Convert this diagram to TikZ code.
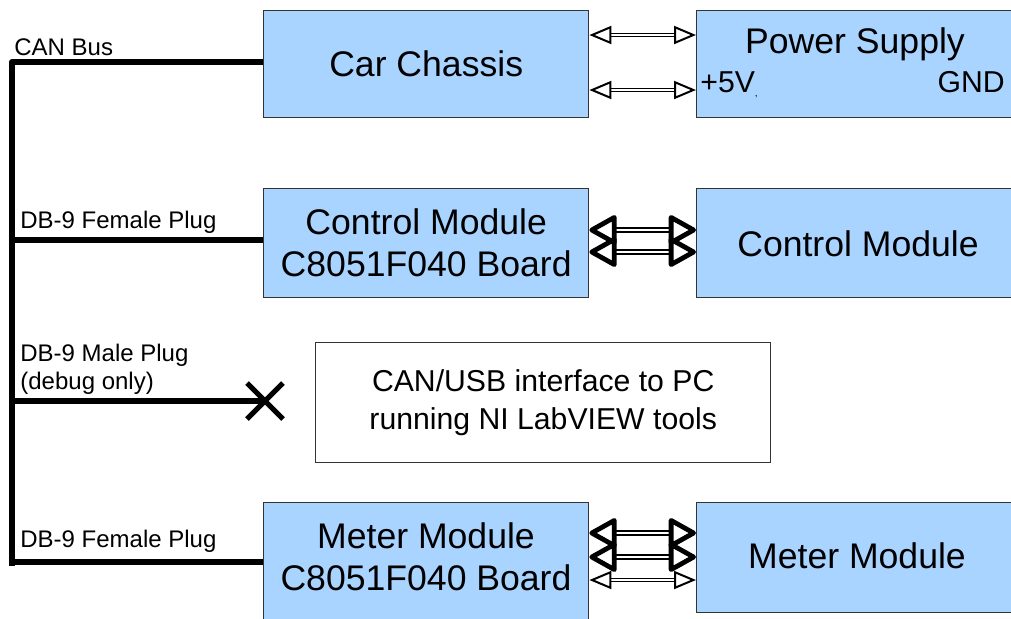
\documentclass[tikz,border=0pt]{standalone}
\usepackage{fontspec}
\setmainfont{Liberation Sans}
\usetikzlibrary{arrows.meta}
\definecolor{boxblue}{RGB}{168,212,255}
\tikzset{
  blk/.style={draw=black!80, fill=boxblue, line width=0.7pt, inner sep=0pt, anchor=north west},
  whitebox/.style={blk, fill=white},
  bigtxt/.style={font=\fontsize{17.8}{21}\selectfont, align=center},
  midtxt/.style={font=\fontsize{15.1}{19}\selectfont, align=center},
  smalltxt/.style={font=\fontsize{12}{14}\selectfont, anchor=base west, inner sep=0pt},
  bus/.style={line width=3pt, line join=round},
  thinlink/.style={double=white, double distance=0.8pt, line width=0.8pt,
    {Triangle[open, fill=white, length=11pt, width=9pt, line width=1pt]}-{Triangle[open, fill=white, length=11pt, width=9pt, line width=1pt]}},
  thicklink/.style={double=white, double distance=0.6pt, line width=1.4pt,
    {Triangle[open, fill=white, length=15pt, width=16pt, line width=2.4pt, round]}-{Triangle[open, fill=white, length=15pt, width=16pt, line width=2.4pt, round]}}
}

\begin{document}
\begin{tikzpicture}[x=0.5pt, y=-0.5pt]
			%%%%% START %%%%%
			\clip (0, 0) rectangle (1011, 618);
			
			% boxes
			\node[blk, minimum width=162.5pt, minimum height=53.5pt] (chassis) at (263, 10) {};
			\node[bigtxt] (chassistxt) at (chassis.center) {Car Chassis};
			\node[blk, minimum width=170pt, minimum height=53.5pt] (power) at (696, 10) {};
			\node[bigtxt, anchor=base] (powertxt) at (855, 53) {Power Supply};
			\node[midtxt, anchor=base west, inner sep=0pt] (plus) at (700, 92) {+5V\raisebox{-2pt}{\tiny,}};
			\node[midtxt, anchor=base east, inner sep=0pt] (gnd) at (1005, 92) {GND};
			
			\node[blk, minimum width=162.5pt, minimum height=54.5pt] (ctrlbrd) at (263, 188) {};
			\node[bigtxt] (ctrlbrdtxt) at (ctrlbrd.center) {Control Module\\C8051F040 Board};
			\node[blk, minimum width=170pt, minimum height=54.5pt] (ctrlmod) at (696, 188) {};
			\node[bigtxt] (ctrlmodtxt) at (858, 244) {Control Module};
			
			\node[whitebox, minimum width=227.5pt, minimum height=60pt] (canusb) at (315, 342) {};
			\node[midtxt] (canusbtxt) at (canusb.center) {CAN/USB interface to PC\\running NI LabVIEW tools};
			
			\node[blk, minimum width=162.5pt, minimum height=69pt] (meterbrd) at (263, 502) {};
			\node[bigtxt] (meterbrdtxt) at (426, 557) {Meter Module\\C8051F040 Board};
			\node[blk, minimum width=170pt, minimum height=55pt] (metermod) at (696, 502) {};
			\node[bigtxt] (metermodtxt) at (857, 556) {Meter Module};
			
			% links between boards
			\draw[thinlink] ([yshift=-12.5pt]chassis.north east) -- ([yshift=-12.5pt]power.north west);
			\draw[thinlink] ([yshift=-40pt]chassis.north east) -- ([yshift=-40pt]power.north west);
			\draw[thicklink] ([yshift=-21pt]ctrlbrd.north east) -- ([yshift=-21pt]ctrlmod.north west);
			\draw[thicklink] ([yshift=-32pt]ctrlbrd.north east) -- ([yshift=-32pt]ctrlmod.north west);
			\draw[thicklink] ([yshift=-15.5pt]meterbrd.north east) -- ([yshift=-15.5pt]metermod.north west);
			\draw[thicklink] ([yshift=-27.5pt]meterbrd.north east) -- ([yshift=-27.5pt]metermod.north west);
			\draw[thinlink] ([yshift=-39pt]meterbrd.north east) -- ([yshift=-39pt]metermod.north west);
			
			% CAN bus
			\coordinate (bustop) at (12, 62);
			\coordinate (busctrl) at (12, 240);
			\coordinate (busdbg) at (12, 401);
			\coordinate (busmeter) at (12, 562);
			\coordinate (busbot) at (12, 566);
			\coordinate (plug) at (265, 401);
			\draw[bus] (bustop -| chassis.west) -- (bustop) -- (busbot);
			\draw[bus] (busctrl) -- (busctrl -| ctrlbrd.west);
			\draw[bus] (busdbg) -- (plug);
			\draw[bus] (busmeter) -- (busmeter -| meterbrd.west);
			\draw[line width=2.5pt] ([shift={(-18,-18)}]plug) -- ([shift={(18,18)}]plug);
			\draw[line width=2.5pt] ([shift={(-18,18)}]plug) -- ([shift={(18,-18)}]plug);
			
			% labels
			\node[smalltxt] (lblbus) at (14, 55) {CAN Bus};
			\node[smalltxt] (lblctrl) at (20, 228) {DB-9 Female Plug};
			\node[smalltxt] (lbldbg) at (20, 361) {DB-9 Male Plug};
			\node[smalltxt] (lbldbg2) at (20, 389) {(debug only)};
			\node[smalltxt] (lblmeter) at (20, 547) {DB-9 Female Plug};
			
			%%%%% END %%%%%
		\end{tikzpicture}
\end{document}
